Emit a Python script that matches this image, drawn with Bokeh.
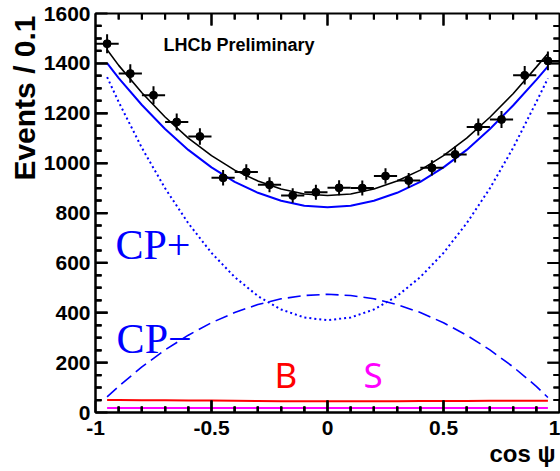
import math
from bokeh.plotting import figure
from bokeh.models import Label, Range1d, FixedTicker, ColumnDataSource, Title, BoxAnnotation
from bokeh.embed import file_html
from bokeh.resources import INLINE

# ---------------- data ----------------
bin_centers = [-0.95, -0.85, -0.75, -0.65, -0.55, -0.45, -0.35, -0.25, -0.15, -0.05,
               0.05, 0.15, 0.25, 0.35, 0.45, 0.55, 0.65, 0.75, 0.85, 0.95]
events = [1479, 1359, 1272, 1165, 1107, 941, 964, 913, 870, 883,
          901, 900, 948, 930, 981, 1035, 1145, 1175, 1352, 1410]
errors = [38, 37, 36, 34, 33, 31, 31, 30, 29, 30,
          30, 30, 31, 30, 31, 32, 34, 34, 37, 38]
bin_half_width = 0.05

curve_x = [-0.95, -0.9, -0.8, -0.7, -0.6, -0.5, -0.4, -0.3, -0.2, -0.1, 0.0,
           0.1, 0.2, 0.3, 0.4, 0.5, 0.6, 0.7, 0.8, 0.9, 0.95]
total_fit = [1455, 1392, 1282, 1185, 1100, 1030, 972, 928, 896, 876, 870,
             876, 896, 928, 972, 1030, 1100, 1184, 1278, 1385, 1440]
cp_sum = [1401, 1341, 1233, 1137, 1053, 983, 925, 881, 849, 829, 823,
          829, 849, 881, 925, 983, 1053, 1137, 1231, 1334, 1388]
cp_plus = [1345, 1245, 1061, 899, 759, 640, 543, 467, 413, 381, 370,
           381, 413, 467, 543, 640, 759, 899, 1061, 1245, 1340]
cp_minus = [63, 105, 183, 251, 310, 360, 401, 433, 456, 469, 474,
            469, 456, 433, 401, 360, 310, 251, 183, 105, 60]
bkg = [50, 50, 49, 49, 48, 48, 47, 46, 45, 45, 45,
       45, 45, 45, 46, 46, 46, 47, 47, 47, 47]
sig = [18, 18, 18, 18, 18, 18, 18, 18, 18, 18, 18,
       18, 18, 18, 18, 18, 18, 18, 18, 18, 18]

x_ticks = [-1, -0.5, 0, 0.5, 1]
x_tick_labels = ["-1", "-0.5", "0", "0.5", "1"]
x_minor = [-0.9, -0.8, -0.7, -0.6, -0.4, -0.3, -0.2, -0.1,
           0.1, 0.2, 0.3, 0.4, 0.6, 0.7, 0.8, 0.9]
y_ticks = [0, 200, 400, 600, 800, 1000, 1200, 1400, 1600]
y_tick_labels = ["0", "200", "400", "600", "800", "1000", "1200", "1400", "1600"]
y_minor = [v for v in range(50, 1600, 50) if v % 200 != 0]

x_title = "cos \u03c8"
y_title = "Events / 0.1"

X0, X1, Y0, Y1 = -1.0, 1.0, 0.0, 1600.0

# ---------------- figure ----------------
p = figure(width=560, height=471, x_range=Range1d(X0, X1), y_range=Range1d(Y0, Y1),
           output_backend="svg", toolbar_location=None,
           min_border_left=95, min_border_right=1, min_border_top=13, min_border_bottom=59)
p.grid.visible = False
p.background_fill_color = "white"
p.border_fill_color = "white"
p.outline_line_color = "black"
p.outline_line_width = 2

FONT = "Liberation Sans"

def style_axis(ax, ticks, minor, labels):
    ax.ticker = FixedTicker(ticks=ticks, minor_ticks=minor)
    ax.axis_line_color = "black"
    ax.axis_line_width = 2
    ax.major_tick_in = 12
    ax.major_tick_out = 0
    ax.minor_tick_in = 6
    ax.minor_tick_out = 0
    ax.major_tick_line_width = 2
    ax.minor_tick_line_width = 2
    ax.major_tick_line_color = "black"
    ax.minor_tick_line_color = "black"
    ax.major_label_overrides = {t: l for t, l in zip(ticks, labels)}
    ax.major_label_text_font = FONT
    ax.major_label_text_font_style = "bold"
    ax.major_label_text_font_size = "21px"
    ax.major_label_text_color = "black"

xaxis = p.xaxis[0]
yaxis = p.yaxis[0]
style_axis(xaxis, x_ticks, x_minor, x_tick_labels)
style_axis(yaxis, y_ticks, y_minor, y_tick_labels)
xaxis.major_label_standoff = 8
yaxis.major_label_standoff = 5

# axis titles placed ROOT-style at the far ends
p.add_layout(Title(text=x_title, align="right", text_font=FONT, text_font_style="bold",
                   text_font_size="24px", text_color="black", standoff=0, offset=4),
             "below")
p.add_layout(Title(text=y_title, align="right", text_font=FONT, text_font_style="bold",
                   text_font_size="30px", text_color="black", standoff=0, offset=2),
             "left")

# ---------------- curves ----------------
BLUE = "#0000ff"
p.line(curve_x, sig, line_color="#ff00ff", line_width=2)
p.line(curve_x, bkg, line_color="#ff0000", line_width=2)
p.line(curve_x, cp_minus, line_color=BLUE, line_width=1.6, line_dash="13 6")
p.line(curve_x, cp_plus, line_color=BLUE, line_width=2, line_dash="2 3")
p.line(curve_x, cp_sum, line_color=BLUE, line_width=2)
p.line(curve_x, total_fit, line_color="black", line_width=1.6)

# ---------------- data points ----------------
src = ColumnDataSource(dict(
    x=bin_centers, y=events,
    lo=[v - e for v, e in zip(events, errors)],
    hi=[v + e for v, e in zip(events, errors)],
    xl=[c - bin_half_width for c in bin_centers],
    xr=[c + bin_half_width for c in bin_centers],
))
p.segment(x0="x", y0="lo", x1="x", y1="hi", source=src, line_color="black", line_width=2)
p.segment(x0="xl", y0="y", x1="xr", y1="y", source=src, line_color="black", line_width=2)
p.scatter("x", "y", source=src, size=8, color="black")

# ---------------- inward ticks on all four sides (ROOT style) ----------------
MAJ_X, MIN_X = 0.052, 0.026      # ~12 px / ~6 px in x data units
MAJ_Y, MIN_Y = 48.0, 24.0        # ~12 px / ~6 px in y data units
HW_X, HW_Y = 0.0045, 4.0         # ~1 px half thickness

def tick_box(left, right, bottom, top):
    p.add_layout(BoxAnnotation(left=left, right=right, bottom=bottom, top=top,
                               fill_color="black", fill_alpha=1.0, line_alpha=0,
                               level="overlay"))

for t, ln in [(t, MAJ_Y) for t in x_ticks[1:-1]] + [(t, MIN_Y) for t in x_minor]:
    tick_box(t - HW_X, t + HW_X, Y0, Y0 + ln)
    tick_box(t - HW_X, t + HW_X, Y1 - ln, Y1)
for t, ln in [(t, MAJ_X) for t in y_ticks[1:-1]] + [(t, MIN_X) for t in y_minor]:
    tick_box(X0, X0 + ln, t - HW_Y, t + HW_Y)
    tick_box(X1 - ln, X1, t - HW_Y, t + HW_Y)

# same ticks as line segments straddling the frame edge (outer half clipped)
tx0, ty0, tx1, ty1 = [], [], [], []
for t in x_ticks[1:-1]:
    tx0 += [t, t]; tx1 += [t, t]
    ty0 += [Y0 - MAJ_Y, Y1 + MAJ_Y]; ty1 += [Y0 + MAJ_Y, Y1 - MAJ_Y]
for t in x_minor:
    tx0 += [t, t]; tx1 += [t, t]
    ty0 += [Y0 - MIN_Y, Y1 + MIN_Y]; ty1 += [Y0 + MIN_Y, Y1 - MIN_Y]
for t in y_ticks[1:-1]:
    tx0 += [X0 - MAJ_X, X1 + MAJ_X]; tx1 += [X0 + MAJ_X, X1 - MAJ_X]
    ty0 += [t, t]; ty1 += [t, t]
for t in y_minor:
    tx0 += [X0 - MIN_X, X1 + MIN_X]; tx1 += [X0 + MIN_X, X1 - MIN_X]
    ty0 += [t, t]; ty1 += [t, t]
tick_src = ColumnDataSource(dict(x0=[float(v) for v in tx0], y0=[float(v) for v in ty0],
                                 x1=[float(v) for v in tx1], y1=[float(v) for v in ty1]))
p.segment(x0="x0", y0="y0", x1="x1", y1="y1", source=tick_src,
          line_color="black", line_width=2)

# ---------------- texts ----------------
p.add_layout(Label(x=-0.707, y=1473, text="LHCb Preliminary", text_font=FONT,
                   text_font_style="bold", text_font_size="18px", text_color="black",
                   text_baseline="alphabetic"))
p.add_layout(Label(x=-0.914, y=673, text="CP+", text_font="Liberation Serif",
                   text_font_size="42px", text_color=BLUE, text_baseline="alphabetic"))
p.add_layout(Label(x=-0.909, y=296, text="CP\u2212", text_font="Liberation Serif",
                   text_font_size="42px", text_color=BLUE, text_baseline="alphabetic"))
p.add_layout(Label(x=-0.228, y=151, text="B", text_font="Noto Sans",
                   text_font_size="35px", text_color="#ff0000", text_baseline="alphabetic"))
p.add_layout(Label(x=0.155, y=151, text="S", text_font="Noto Sans",
                   text_font_size="35px", text_color="#ff00ff", text_baseline="alphabetic"))

open("out.html", "w").write(file_html(p, INLINE))
